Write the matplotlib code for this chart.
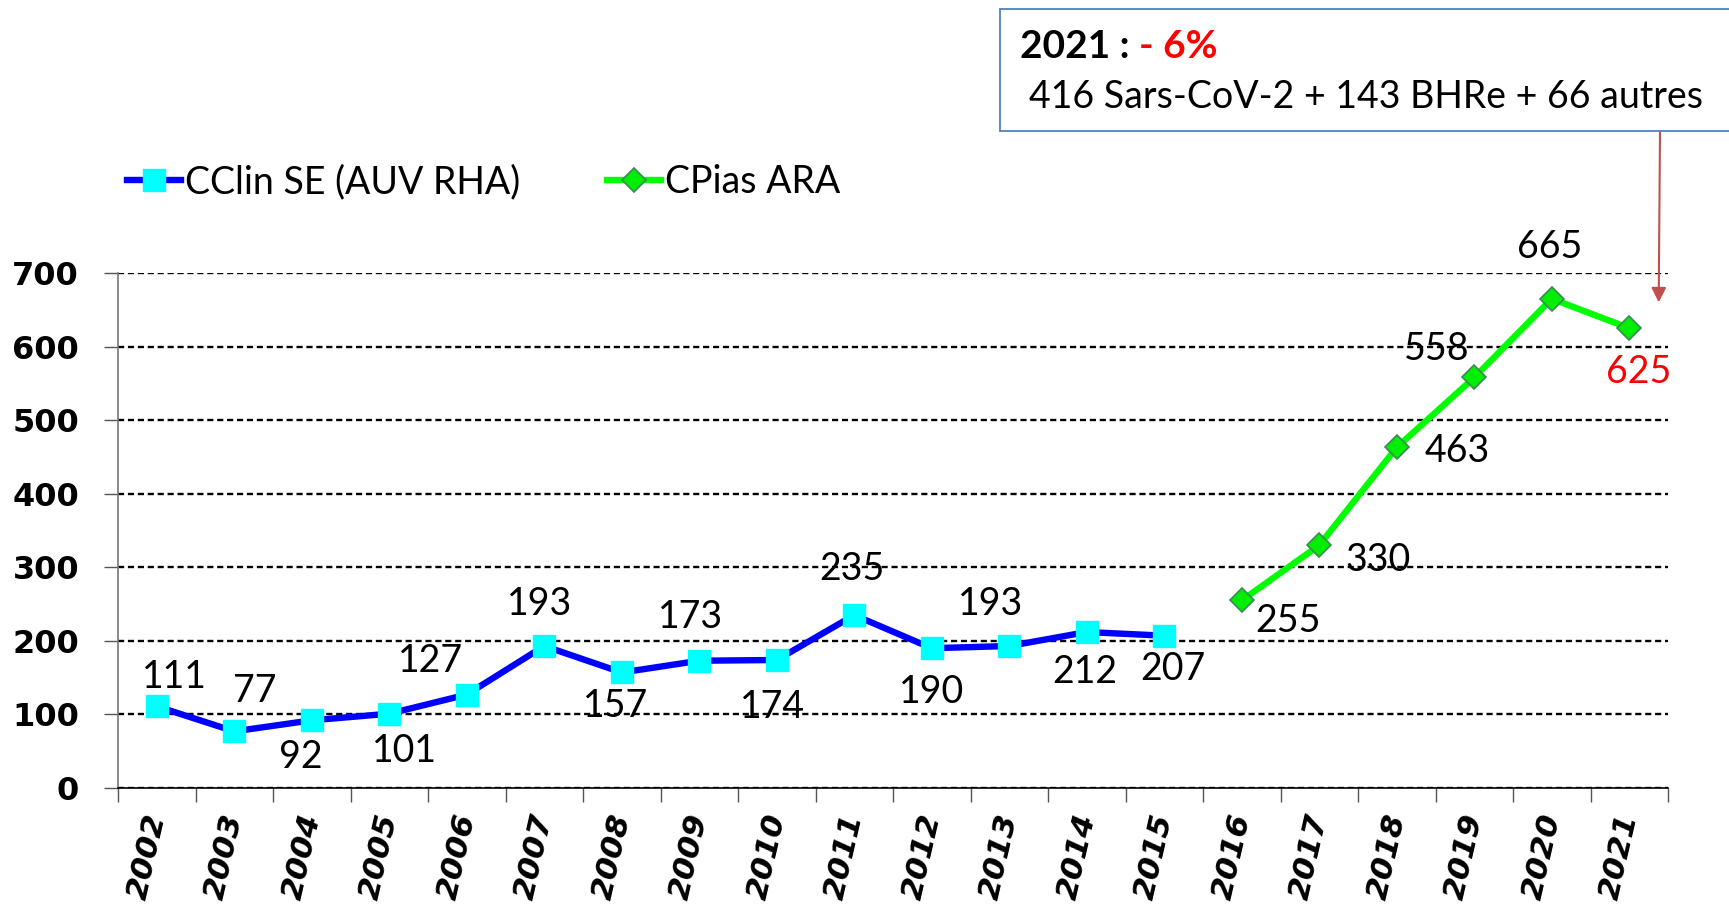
import matplotlib
matplotlib.use('Agg')
import matplotlib.pyplot as plt
from matplotlib.patches import Rectangle
from matplotlib.ticker import FixedLocator

# ---------------- data ----------------
years = [str(y) for y in range(2002, 2022)]
cclin_years = years[:14]
cclin_values = [111, 77, 92, 101, 127, 193, 157, 173, 174, 235, 190, 193, 212, 207]
cpias_years = years[14:]
cpias_values = [255, 330, 463, 558, 665, 625]
y_ticks = [0, 100, 200, 300, 400, 500, 600, 700]
series_labels = ['CClin SE (AUV RHA)', 'CPias ARA']
box_title = '2021 : '
box_change = '- 6%'
box_detail = '416 Sars-CoV-2 + 143 BHRe + 66 autres'

# label offsets (in reference pixels, right / up)
cclin_offsets = [(16, 27), (19, 37), (-10, -33), (14, -34), (-33, 30), (-4, 38),
                 (-6, -30), (-8, 40), (-4, -43), (-2, 42), (0, -40), (-17, 38),
                 (-2, -36), (8, -30)]
cpias_offsets = [(42, -19), (53, -13), (55, -3), (-34, 26), (-2, 47), (9, -40)]
PX = 1.1027 * 0.72

LABEL_FONT = 'Lato'
LABEL_SIZE = 27

fig = plt.figure(figsize=(17.29, 9.11), dpi=100)
ax = fig.add_axes([118 / 1729, 1 - 788 / 911, (1668 - 118) / 1729, (788 - 273) / 911])

l1, = ax.plot(cclin_years, cclin_values, color='#0000ff', lw=4.6, marker='s',
              markersize=16, markerfacecolor='#00ffff', markeredgecolor='#00ffff',
              label=series_labels[0], zorder=3)
l2, = ax.plot(cpias_years, cpias_values, color='#00ff00', lw=4.6, marker='D',
              markersize=12, markerfacecolor='#00ee00', markeredgecolor='#3a8a5a',
              markeredgewidth=1.2, label=series_labels[1], zorder=3)

for i, (v, (dx, dy)) in enumerate(zip(cclin_values, cclin_offsets)):
    ax.annotate(str(v), (i, v), xytext=(dx * PX, dy * PX), textcoords='offset points',
                ha='center', va='center', fontsize=LABEL_SIZE, family=LABEL_FONT,
                color='black', zorder=4)
for j, (v, (dx, dy)) in enumerate(zip(cpias_values, cpias_offsets)):
    i = 14 + j
    col = 'red' if j == len(cpias_values) - 1 else 'black'
    ax.annotate(str(v), (i, v), xytext=(dx * PX, dy * PX), textcoords='offset points',
                ha='center', va='center', fontsize=LABEL_SIZE, family=LABEL_FONT,
                color=col, zorder=4)

ax.set_xlim(-0.5, len(years) - 0.5)
ax.set_ylim(0, 700)
ax.set_yticks(y_ticks)
ax.yaxis.grid(True, color='black', linestyle=(0, (2.6, 1.6)), linewidth=1.7)
ax.set_axisbelow(True)
for t in ax.get_yticklabels():
    t.set_fontweight('heavy')
    t.set_fontsize(23)
    t.set_family('DejaVu Sans')
ax.tick_params(axis='y', direction='out', length=10, width=1.0, color='#555555', pad=18)

ax.set_xticks(range(len(years)))
ax.set_xticklabels(years, rotation=77, fontsize=22.5, fontweight='bold', style='italic',
                   family='DejaVu Sans', ha='right', va='center', rotation_mode='anchor')
ax.tick_params(axis='x', which='major', length=0, pad=19)
ax.xaxis.set_minor_locator(FixedLocator([k - 0.5 for k in range(len(years) + 1)]))
ax.tick_params(axis='x', which='minor', direction='out', length=10, width=1.0, color='#555555')

for s in ['top', 'right']:
    ax.spines[s].set_visible(False)
ax.spines['left'].set_color('#777777')
ax.spines['left'].set_linewidth(1.2)
ax.spines['bottom'].set_color('black')
ax.spines['bottom'].set_linewidth(1.2)

leg = fig.legend(handles=[l1, l2], loc='center left', bbox_to_anchor=(127 / 1729, 1 - 182 / 911),
                 ncol=2, frameon=False, prop={'family': LABEL_FONT, 'size': LABEL_SIZE},
                 handlelength=1.45, handletextpad=0.1, columnspacing=2.3,
                 borderpad=0, borderaxespad=0)

# annotation box
box = Rectangle((1000 / 1729, 1 - 131 / 911), 0.5, 122 / 911, transform=fig.transFigure,
                facecolor='white', edgecolor='#4f81bd', linewidth=1.3, zorder=5)
fig.patches.append(box)
t1 = fig.text(1020 / 1729, 1 - 47 / 911, box_title, fontsize=LABEL_SIZE + 1, family=LABEL_FONT,
              fontweight='bold', color='black', va='center', ha='left', zorder=6)
fig.canvas.draw()
ext = t1.get_window_extent()
fig.text(ext.x1 / 1729, 1 - 47 / 911, box_change, fontsize=LABEL_SIZE + 1, family=LABEL_FONT,
         fontweight='bold', color='red', va='center', ha='left', zorder=6)
fig.text(1029 / 1729, 1 - 97 / 911, box_detail, fontsize=LABEL_SIZE, family=LABEL_FONT,
         color='black', va='center', ha='left', zorder=6)

ax.annotate('', xy=(19.38, 660), xycoords='data',
            xytext=(1660 / 1729, 1 - 131 / 911), textcoords='figure fraction',
            arrowprops=dict(arrowstyle='-|>', color='#c0504d', lw=1.5,
                            mutation_scale=22, shrinkA=0, shrinkB=0),
            annotation_clip=False)

fig.savefig('out.png', dpi=100)
